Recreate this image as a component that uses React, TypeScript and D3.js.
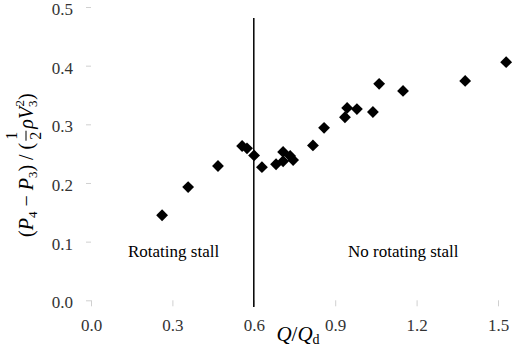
import React, { useEffect, useRef } from 'react';
import * as d3 from 'd3';

// flow ratio Q/Qd and pressure coefficient
const flowRatio = [0.262, 0.358, 0.468, 0.557, 0.575, 0.601, 0.630, 0.682, 0.708, 0.708, 0.734,
  0.745, 0.818, 0.859, 0.936, 0.944, 0.980, 1.039, 1.062, 1.150, 1.379, 1.530];
const pressureCoef = [0.145, 0.193, 0.229, 0.263, 0.259, 0.247, 0.227, 0.232, 0.253, 0.237, 0.246,
  0.239, 0.264, 0.294, 0.312, 0.328, 0.326, 0.321, 0.369, 0.357, 0.374, 0.406];
const xTicks = [0, 0.3, 0.6, 0.9, 1.2, 1.5];
const yTicks = [0, 0.1, 0.2, 0.3, 0.4, 0.5];
const stallLimit = 0.6;
const regionLabels = ['Rotating stall', 'No rotating stall'];

const width = 526;
const height = 356;
const font = 'Liberation Serif, Times New Roman, serif';

function App() {
  const svgRef = useRef<SVGSVGElement>(null);

  useEffect(() => {
    document.body.style.margin = '0';
    const svg = d3.select(svgRef.current);
    svg.selectAll('*').remove();

    const x = d3.scaleLinear().domain([0, 1.5]).range([91, 498]);
    const y = d3.scaleLinear().domain([0, 0.5]).range([300.3, 7]);

    // ticks only, the axis lines are not drawn in the original
    const xAxis = svg.append('g')
      .attr('transform', `translate(0,${y(0)})`)
      .call(d3.axisBottom(x).tickValues(xTicks).tickSize(6).tickPadding(13).tickFormat(d3.format('.1f')));
    const yAxis = svg.append('g')
      .attr('transform', `translate(${x(0)},0)`)
      .call(d3.axisLeft(y).tickValues(yTicks).tickSize(5).tickPadding(13).tickFormat(d3.format('.1f')));
    yAxis.selectAll('.tick text').attr('dy', '0.45em');
    [xAxis, yAxis].forEach(g => {
      g.attr('font-family', font).attr('font-size', 17);
      g.select('.domain').remove();
      g.selectAll('.tick line').attr('stroke', '#d0d0d0');
      g.selectAll('.tick text').attr('fill', '#333');
    });

    // stall boundary
    svg.append('line')
      .attr('x1', x(stallLimit)).attr('x2', x(stallLimit))
      .attr('y1', 18).attr('y2', 307)
      .attr('stroke', '#000')
      .attr('stroke-width', 1.5);

    const pts = flowRatio.map((q, i) => ({ q, c: pressureCoef[i] }));
    svg.append('g')
      .selectAll('path')
      .data(pts)
      .join('path')
      .attr('d', d3.symbol(d3.symbolSquare, 70)())
      .attr('transform', d => `translate(${x(d.q)},${y(d.c)}) rotate(45)`)
      .attr('fill', '#000');

    svg.append('text')
      .attr('x', 128).attr('y', 257)
      .attr('font-family', font).attr('font-size', 17)
      .text(regionLabels[0]);
    svg.append('text')
      .attr('x', 348).attr('y', 257)
      .attr('font-family', font).attr('font-size', 17)
      .text(regionLabels[1]);

    // x label Q/Qd
    const xl = svg.append('text')
      .attr('x', 298).attr('y', 341)
      .attr('text-anchor', 'middle')
      .attr('font-family', font).attr('font-size', 21);
    xl.append('tspan').attr('font-style', 'italic').text('Q');
    xl.append('tspan').text('/');
    xl.append('tspan').attr('font-style', 'italic').text('Q');
    xl.append('tspan').attr('font-size', 14).attr('dy', 3).text('d');

    // y label (P4 - P3) / (1/2 rho V3^2), rotated
    const yl = svg.append('g')
      .attr('transform', 'translate(33,237) rotate(-90)')
      .attr('font-family', font);
    const t1 = yl.append('text').attr('font-size', 20);
    t1.append('tspan').text('(');
    t1.append('tspan').attr('font-style', 'italic').text('P');
    t1.append('tspan').attr('font-size', 13).attr('dy', 4).text('4');
    t1.append('tspan').attr('dy', -4).text(' \u2212 ');
    t1.append('tspan').attr('font-style', 'italic').text('P');
    t1.append('tspan').attr('font-size', 13).attr('dy', 4).text('3');
    t1.append('tspan').attr('dy', -4).text(') / (');
    const l1 = (t1.node() as SVGTextElement).getComputedTextLength();

    const fx = l1 + 7;
    yl.append('text').attr('x', fx).attr('y', -16).attr('font-size', 16)
      .attr('text-anchor', 'middle').text('1');
    yl.append('line')
      .attr('x1', fx - 5).attr('x2', fx + 5)
      .attr('y1', -7).attr('y2', -7)
      .attr('stroke', '#000').attr('stroke-width', 1);
    yl.append('text').attr('x', fx).attr('y', 8).attr('font-size', 16)
      .attr('text-anchor', 'middle').text('2');

    const t2 = yl.append('text').attr('x', fx + 7).attr('font-size', 20);
    t2.append('tspan').attr('font-style', 'italic').text('\u03c1V');
    t2.append('tspan').attr('font-size', 13).attr('dy', 4).text('3');
    t2.append('tspan').attr('font-size', 13).attr('dx', -6).attr('dy', -13).text('2');
    t2.append('tspan').attr('dy', 9).text(')');
  }, []);

  return <svg ref={svgRef} width={width} height={height} style={{ display: 'block', background: '#fff' }} />;
}

export default App;
